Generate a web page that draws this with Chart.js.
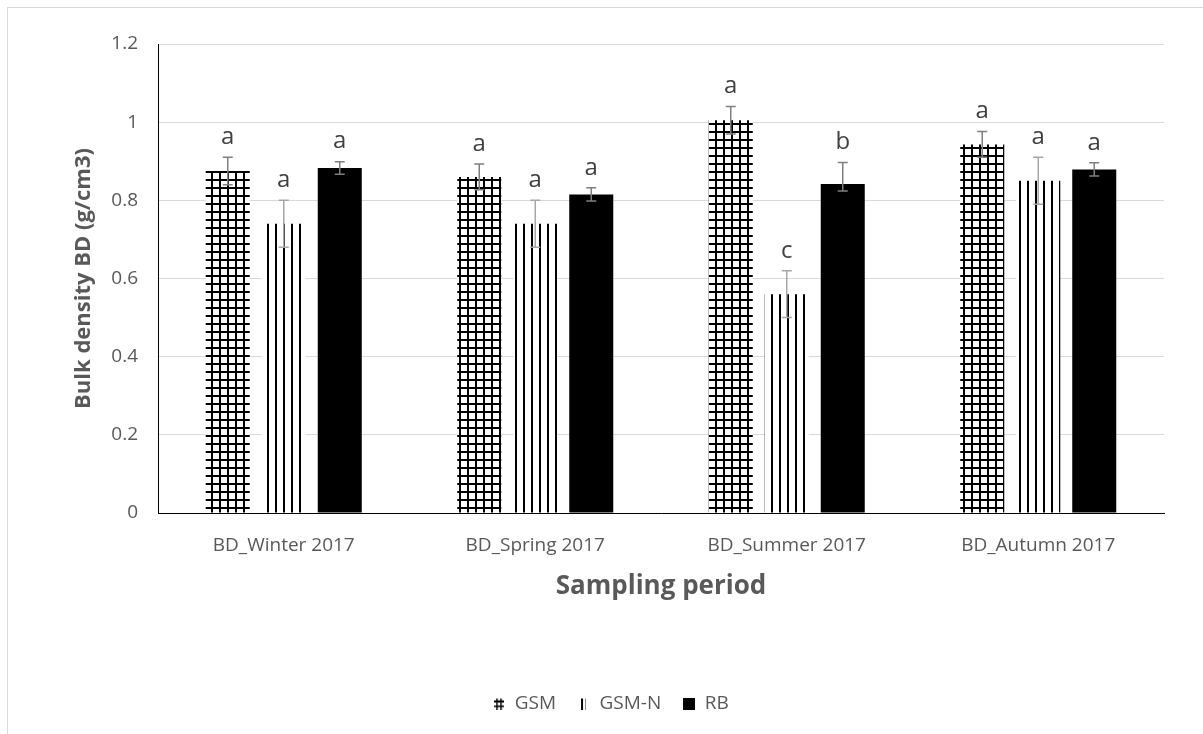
<!DOCTYPE html>
<html>
<head>
<meta charset="utf-8">
<title>Bulk density by sampling period</title>
<script src="https://cdn.jsdelivr.net/npm/chart.js@4.4.1/dist/chart.umd.min.js"></script>
<style>
  html, body { margin: 0; padding: 0; background: #fff; }
  #wrap { width: 1203px; height: 734px; }
</style>
</head>
<body>
<div id="wrap"><canvas id="bdChart" width="1203" height="734"></canvas></div>
<script>
// sampling periods
const periods = ['BD_Winter 2017', 'BD_Spring 2017', 'BD_Summer 2017', 'BD_Autumn 2017'];
const yTicks = [0, 0.2, 0.4, 0.6, 0.8, 1, 1.2];

// mean bulk density (g/cm3)
const gsmBD = [0.875, 0.86, 1.005, 0.943];
const gsmnBD = [0.74, 0.74, 0.56, 0.85];
const rbBD = [0.883, 0.815, 0.842, 0.879];

// error bar half-widths (up / down)
const gsmErrUp = [0.035, 0.033, 0.035, 0.033];
const gsmErrDown = [0.035, 0.033, 0.035, 0.033];
const gsmnErrUp = [0.06, 0.06, 0.06, 0.06];
const gsmnErrDown = [0.06, 0.06, 0.06, 0.06];
const rbErrUp = [0.016, 0.017, 0.055, 0.017];
const rbErrDown = [0.016, 0.017, 0.018, 0.017];

// significance letters
const gsmLetters = ['a', 'a', 'a', 'a'];
const gsmnLetters = ['a', 'a', 'c', 'a'];
const rbLetters = ['a', 'a', 'b', 'a'];

const FONT = '"Open Sans", "Noto Sans", sans-serif';
const TXT = '#595959';

// hatch fills like the excel pattern fills
function makePattern(kind) {
  const c = document.createElement('canvas');
  c.width = 8; c.height = 8;
  const g = c.getContext('2d');
  g.fillStyle = '#fff';
  g.fillRect(0, 0, 8, 8);
  g.fillStyle = '#000';
  if (kind === 'grid') {
    g.fillRect(3, 0, 2, 8);
    g.fillRect(0, 3, 8, 2);
  } else if (kind === 'vert') {
    g.fillRect(3, 0, 2, 8);
  }
  return g.createPattern(c, 'repeat');
}

// small legend glyphs
function makeIcon(kind) {
  const c = document.createElement('canvas');
  const g = c.getContext('2d');
  if (kind === 'grid') {
    c.width = 10; c.height = 12;
    g.fillStyle = '#000';
    g.fillRect(2, 1, 1.5, 11);
    g.fillRect(6, 1, 1.5, 11);
    g.fillRect(0, 3, 10, 2);
    g.fillRect(0, 8, 10, 1.5);
  } else if (kind === 'vert') {
    c.width = 8; c.height = 12;
    g.fillStyle = '#000';
    g.fillRect(1, 1, 2, 11);
    g.fillStyle = '#888';
    g.fillRect(5, 1, 1, 11);
  } else {
    c.width = 12; c.height = 12;
    g.fillStyle = '#000';
    g.fillRect(0, 0, 12, 12);
  }
  return c;
}

const gridFill = makePattern('grid');
const vertFill = makePattern('vert');
const icons = [makeIcon('grid'), makeIcon('vert'), makeIcon('solid')];

const bg = {
  id: 'bg',
  beforeDraw(chart) {
    const ctx = chart.ctx;
    ctx.save();
    ctx.fillStyle = '#fff';
    ctx.fillRect(0, 0, chart.width, chart.height);
    ctx.strokeStyle = '#d9d9d9';
    ctx.lineWidth = 1;
    ctx.strokeRect(7.5, 7.5, chart.width + 20, chart.height + 20);
    ctx.restore();
  }
};

// error bars + letters above them
const errBars = {
  id: 'errBars',
  afterDatasetsDraw(chart) {
    const ctx = chart.ctx;
    const y = chart.scales.y;
    chart.data.datasets.forEach((ds, i) => {
      const meta = chart.getDatasetMeta(i);
      meta.data.forEach((bar, j) => {
        const v = ds.data[j];
        const top = y.getPixelForValue(v + ds.errUp[j]);
        const bot = y.getPixelForValue(v - ds.errDown[j]);
        ctx.save();
        ctx.strokeStyle = ds.errColor;
        ctx.lineWidth = 1.5;
        ctx.beginPath();
        ctx.moveTo(bar.x, top); ctx.lineTo(bar.x, bot);
        ctx.moveTo(bar.x - 5, top); ctx.lineTo(bar.x + 5, top);
        ctx.moveTo(bar.x - 5, bot); ctx.lineTo(bar.x + 5, bot);
        ctx.stroke();
        ctx.fillStyle = '#404040';
        ctx.font = '24px ' + FONT;
        ctx.textAlign = 'center';
        ctx.textBaseline = 'middle';
        ctx.fillText(ds.letters[j], bar.x, top - 20);
        ctx.restore();
      });
    });
  }
};

new Chart(document.getElementById('bdChart'), {
  type: 'bar',
  data: {
    labels: periods,
    datasets: [
      { label: 'GSM', data: gsmBD, backgroundColor: gridFill, errUp: gsmErrUp, errDown: gsmErrDown, errColor: '#7f7f7f', letters: gsmLetters },
      { label: 'GSM-N', data: gsmnBD, backgroundColor: vertFill, errUp: gsmnErrUp, errDown: gsmnErrDown, errColor: '#a6a6a6', letters: gsmnLetters },
      { label: 'RB', data: rbBD, backgroundColor: '#000', errUp: rbErrUp, errDown: rbErrDown, errColor: '#7f7f7f', letters: rbLetters }
    ]
  },
  options: {
    responsive: false,
    animation: false,
    layout: { padding: { top: 44, left: 58, right: 39, bottom: 11 } },
    datasets: { bar: { categoryPercentage: 0.668, barPercentage: 0.786, borderWidth: 0 } },
    plugins: {
      tooltip: { enabled: false },
      legend: {
        position: 'bottom',
        labels: {
          color: TXT, font: { family: FONT, size: 19 }, boxWidth: 12, boxHeight: 12, padding: 22,
          usePointStyle: true,
          generateLabels(chart) {
            const items = Chart.defaults.plugins.legend.labels.generateLabels(chart);
            items.forEach((it, i) => { it.pointStyle = icons[i]; });
            return items;
          }
        }
      }
    },
    scales: {
      x: {
        grid: { display: false },
        border: { color: '#000', width: 1 },
        ticks: { color: TXT, font: { family: FONT, size: 19 }, padding: 13 },
        title: { display: true, text: 'Sampling period', color: TXT, font: { family: FONT, size: 26, weight: 'bold' }, padding: { top: 0, bottom: 70 } },
        afterFit(s) { s.height = 159; }
      },
      y: {
        min: 0, max: 1.2,
        afterBuildTicks(s) { s.ticks = yTicks.map(v => ({ value: v })); },
        grid: { color: '#d9d9d9', drawTicks: false },
        border: { color: '#000', width: 1 },
        ticks: { color: TXT, font: { family: FONT, size: 19 }, padding: 20, callback: v => String(+v.toFixed(1)) },
        title: { display: true, text: 'Bulk density BD (g/cm3)', color: TXT, font: { family: FONT, size: 22, weight: 'bold' }, padding: { top: 13, bottom: 0 } },
        afterFit(s) { s.width = 100; }
      }
    }
  },
  plugins: [bg, errBars]
});
</script>
</body>
</html>
